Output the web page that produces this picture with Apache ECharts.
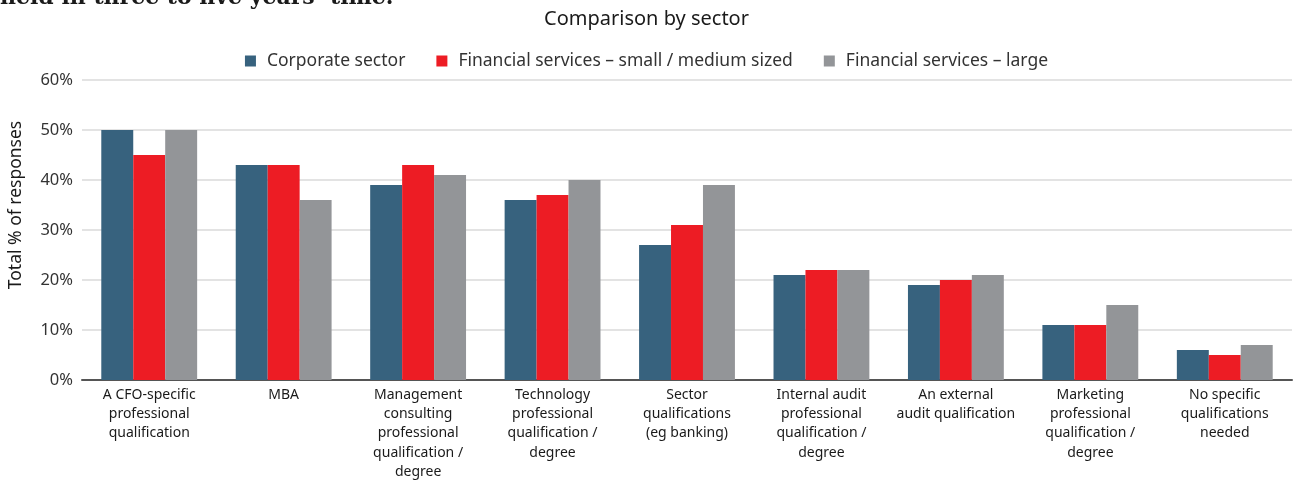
<!DOCTYPE html>
<html>
<head>
<meta charset="utf-8">
<script src="https://cdn.jsdelivr.net/npm/echarts@6/dist/echarts.min.js"></script>
<style>
  html, body { margin: 0; padding: 0; background: #fff; }
  #chart { width: 1293px; height: 481px; }
</style>
</head>
<body>
<div id="chart"></div>
<script>
var categories = [
  'A CFO-specific\nprofessional\nqualification',
  'MBA',
  'Management\nconsulting\nprofessional\nqualification /\ndegree',
  'Technology\nprofessional\nqualification /\ndegree',
  'Sector\nqualifications\n(eg banking)',
  'Internal audit\nprofessional\nqualification /\ndegree',
  'An external\naudit qualification',
  'Marketing\nprofessional\nqualification /\ndegree',
  'No specific\nqualifications\nneeded'
];
var seriesNames = ['Corporate sector', 'Financial services \u2013 small / medium sized', 'Financial services \u2013 large'];
var corporate = [50, 43, 39, 36, 27, 21, 19, 11, 6];
var fsSmall = [45, 43, 43, 37, 31, 22, 20, 11, 5];
var fsLarge = [50, 36, 41, 40, 39, 22, 21, 15, 7];
var colors = ['#37627e', '#ed1c24', '#939598'];

var font = '"Noto Sans", "Open Sans", sans-serif';
var chart = echarts.init(document.getElementById('chart'));

var option = {
  backgroundColor: '#fff',
  color: colors,
  textStyle: { fontFamily: font },
  title: {
    text: 'Comparison by sector',
    left: 'center',
    top: 4,
    textStyle: { fontSize: 20, fontWeight: 'normal', color: '#1a1a1a', fontFamily: font }
  },
  graphic: [{
    type: 'text',
    left: 0,
    top: -13,
    style: {
      text: 'held in three to five years\u2019 time.',
      font: 'bold 22px "DejaVu Serif", "Liberation Serif", serif',
      fill: '#1a1a1a'
    }
  }],
  legend: {
    top: 47,
    left: 'center',
    itemWidth: 11,
    itemHeight: 11,
    itemGap: 31,
    icon: 'rect',
    textStyle: { fontSize: 17.5, color: '#333', fontFamily: font, padding: [0, 0, 0, 6] },
    data: seriesNames
  },
  grid: { left: 82, right: 1, top: 80, bottom: 101, outerBoundsMode: 'none', containLabel: false },
  xAxis: {
    type: 'category',
    data: categories,
    axisLine: { lineStyle: { color: '#555', width: 2 } },
    axisTick: { show: false },
    axisLabel: {
      interval: 0,
      fontSize: 14,
      lineHeight: 19.3,
      color: '#1a1a1a',
      margin: 5,
      fontFamily: font
    }
  },
  yAxis: {
    type: 'value',
    min: 0,
    max: 60,
    interval: 10,
    name: 'Total % of responses',
    nameLocation: 'middle',
    nameGap: 57,
    nameTextStyle: { fontSize: 17.5, color: '#1a1a1a', fontFamily: font, padding: [0, 0, 0, 50] },
    axisLine: { show: false },
    axisTick: { show: false },
    splitLine: { lineStyle: { color: '#e3e3e3', width: 2 } },
    axisLabel: {
      formatter: '{value}%',
      fontSize: 16.5,
      color: '#333',
      margin: 9,
      fontFamily: font
    }
  },
  series: [
    { name: seriesNames[0], type: 'bar', data: corporate, barGap: '0%', barCategoryGap: '28.7%' },
    { name: seriesNames[1], type: 'bar', data: fsSmall, barGap: '0%', barCategoryGap: '28.7%' },
    { name: seriesNames[2], type: 'bar', data: fsLarge, barGap: '0%', barCategoryGap: '28.7%' }
  ]
};
chart.setOption(option);
</script>
</body>
</html>
